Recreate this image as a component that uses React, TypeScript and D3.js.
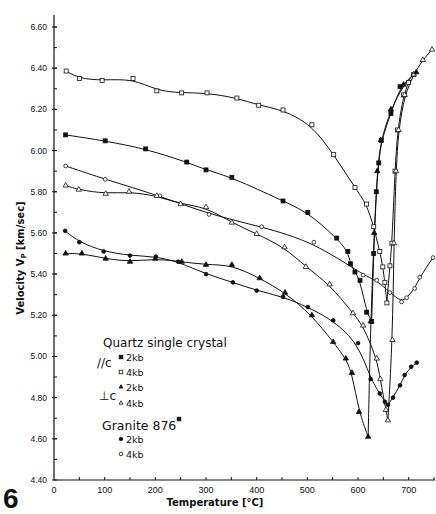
import React, { useEffect, useRef } from 'react';
import * as d3 from 'd3';

// Tick values
const xTicks = [0, 100, 200, 300, 400, 500, 600, 700];
const yTicks = [4.4, 4.6, 4.8, 5.0, 5.2, 5.4, 5.6, 5.8, 6.0, 6.2, 6.4, 6.6];

// Quartz single crystal, parallel c, 2kb (filled squares)
const parC2kbTemp = [23, 101, 181, 262, 300, 351, 452, 501, 558, 580, 585, 594, 604, 617, 627, 631, 636, 641, 646, 665, 683, 710];
const parC2kbVp = [6.076, 6.047, 6.008, 5.944, 5.906, 5.87, 5.755, 5.7, 5.575, 5.51, 5.45, 5.41, 5.37, 5.215, 5.17, 5.5, 5.8, 5.94, 6.05, 6.18, 6.31, 6.37];

// parallel c, 4kb (open squares)
const parC4kbTemp = [24, 50, 95, 156, 203, 252, 302, 361, 404, 452, 509, 552, 594, 617, 631, 643, 649, 653, 657, 663, 667, 673, 678, 690, 700];
const parC4kbVp = [6.386, 6.35, 6.34, 6.35, 6.29, 6.28, 6.28, 6.255, 6.22, 6.197, 6.125, 5.98, 5.82, 5.74, 5.63, 5.51, 5.435, 5.36, 5.26, 5.44, 5.55, 5.9, 6.1, 6.27, 6.33];

// perpendicular c, 2kb (filled triangles)
const perpC2kbTemp = [23, 55, 102, 150, 200, 252, 300, 351, 406, 456, 509, 551, 576, 588, 602, 620, 625, 632, 638, 645, 665, 690, 715];
const perpC2kbVp = [5.5, 5.5, 5.475, 5.46, 5.475, 5.46, 5.445, 5.445, 5.38, 5.31, 5.2, 5.07, 4.99, 4.92, 4.73, 4.61, 5.17, 5.6, 5.9, 6.05, 6.2, 6.32, 6.38];

// perpendicular c, 4kb (open triangles)
const perpC4kbTemp = [23, 49, 102, 148, 203, 250, 300, 351, 400, 455, 497, 544, 590, 610, 637, 644, 655, 659, 668, 671, 675, 680, 692, 710, 728, 746];
const perpC4kbVp = [5.83, 5.81, 5.79, 5.8, 5.78, 5.74, 5.725, 5.65, 5.595, 5.53, 5.435, 5.35, 5.21, 5.15, 4.99, 4.89, 4.74, 4.69, 5.08, 5.55, 5.9, 6.1, 6.27, 6.37, 6.44, 6.49];

// Granite 876, 2kb (filled circles)
const granite2kbTemp = [22, 50, 98, 150, 201, 245, 300, 353, 400, 452, 501, 551, 600, 625, 643, 653, 659, 669, 683, 692, 705, 716];
const granite2kbVp = [5.61, 5.555, 5.51, 5.49, 5.485, 5.46, 5.4, 5.36, 5.32, 5.29, 5.24, 5.175, 5.065, 4.89, 4.82, 4.78, 4.765, 4.8, 4.86, 4.91, 4.95, 4.97];

// Granite 876, 4kb (open circles)
const granite4kbTemp = [23, 101, 209, 306, 410, 513, 610, 637, 663, 686, 696, 712, 722, 748];
const granite4kbVp = [5.925, 5.86, 5.78, 5.69, 5.63, 5.555, 5.395, 5.37, 5.31, 5.265, 5.285, 5.33, 5.385, 5.48];

const series = [
  { temp: parC4kbTemp, vp: parC4kbVp, shape: 'square', filled: false, cusp: 18 },
  { temp: parC2kbTemp, vp: parC2kbVp, shape: 'square', filled: true, cusp: 14 },
  { temp: granite4kbTemp, vp: granite4kbVp, shape: 'circle', filled: false, cusp: -1 },
  { temp: perpC4kbTemp, vp: perpC4kbVp, shape: 'triangle', filled: false, cusp: 17 },
  { temp: granite2kbTemp, vp: granite2kbVp, shape: 'circle', filled: true, cusp: 16 },
  { temp: perpC2kbTemp, vp: perpC2kbVp, shape: 'triangle', filled: true, cusp: 15 },
];

const W = 436;
const H = 514;

function drawMarker(g: any, shape: string, filled: boolean, x: number, y: number, s: number) {
  const fill = filled ? '#111' : '#fff';
  if (shape === 'square') {
    g.append('rect')
      .attr('x', x - s / 2).attr('y', y - s / 2)
      .attr('width', s).attr('height', s)
      .attr('fill', fill).attr('stroke', '#111').attr('stroke-width', 0.8);
  } else if (shape === 'circle') {
    g.append('circle')
      .attr('cx', x).attr('cy', y).attr('r', s / 2)
      .attr('fill', fill).attr('stroke', '#111').attr('stroke-width', 0.8);
  } else {
    g.append('path')
      .attr('d', d3.symbol(d3.symbolTriangle, s * s * 0.5)())
      .attr('transform', `translate(${x},${y})`)
      .attr('fill', fill).attr('stroke', '#111').attr('stroke-width', 0.8);
  }
}

export default function App() {
  const svgRef = useRef<SVGSVGElement>(null);

  useEffect(() => {
    if (!svgRef.current) return;
    const svg = d3.select(svgRef.current);
    svg.selectAll('*').remove();

    const x = d3.scaleLinear().domain([0, 750]).range([54, 434]);
    const y = d3.scaleLinear().domain([4.4, 6.6]).range([480, 27]);
    const font = 'Liberation Sans, Arial, sans-serif';
    const ink = '#111';

    svg.append('rect').attr('width', W).attr('height', H).attr('fill', '#fff');

    // Axis lines
    svg.append('line')
      .attr('x1', x(0)).attr('x2', x(0)).attr('y1', 15).attr('y2', y(4.4))
      .attr('stroke', ink).attr('stroke-width', 1.2);
    svg.append('line')
      .attr('x1', x(0)).attr('x2', 435).attr('y1', y(4.4)).attr('y2', y(4.4))
      .attr('stroke', ink).attr('stroke-width', 1.2);

    // Y ticks (major with labels, minor every 0.1)
    d3.range(4.5, 6.65, 0.1).forEach(v => {
      svg.append('line')
        .attr('x1', x(0)).attr('x2', x(0) + 3)
        .attr('y1', y(v)).attr('y2', y(v))
        .attr('stroke', ink).attr('stroke-width', 1);
    });
    yTicks.forEach(v => {
      svg.append('line')
        .attr('x1', x(0) - 2).attr('x2', x(0) + 3)
        .attr('y1', y(v)).attr('y2', y(v))
        .attr('stroke', ink).attr('stroke-width', 1);
      svg.append('text')
        .attr('x', 47).attr('y', y(v) + 3)
        .attr('text-anchor', 'end')
        .attr('font-family', font).attr('font-size', 8.5).attr('fill', ink)
        .text(d3.format('.2f')(v));
    });

    // X ticks every 50, labels every 100
    d3.range(50, 751, 50).forEach(t => {
      svg.append('line')
        .attr('x1', x(t)).attr('x2', x(t))
        .attr('y1', y(4.4)).attr('y2', y(4.4) - 3)
        .attr('stroke', ink).attr('stroke-width', 1);
    });
    xTicks.forEach(t => {
      svg.append('text')
        .attr('x', x(t)).attr('y', 493)
        .attr('text-anchor', 'middle')
        .attr('font-family', font).attr('font-size', 9).attr('fill', ink)
        .text(t);
    });

    // Axis titles
    svg.append('text')
      .attr('x', 215).attr('y', 506)
      .attr('text-anchor', 'middle')
      .attr('font-family', 'DejaVu Sans, sans-serif').attr('font-size', 10).attr('font-weight', 'bold')
      .attr('fill', ink)
      .text('Temperature [°C]');

    const yt = svg.append('text')
      .attr('transform', 'translate(24,258) rotate(-90)')
      .attr('text-anchor', 'middle')
      .attr('font-family', 'DejaVu Sans, sans-serif').attr('font-size', 10).attr('font-weight', 'bold')
      .attr('fill', ink);
    yt.append('tspan').text('Velocity V');
    yt.append('tspan').attr('font-size', 7).attr('dy', 2).text('P');
    yt.append('tspan').attr('dy', -2).text(' [km/sec]');

    svg.append('text')
      .attr('x', 3).attr('y', 508)
      .attr('font-family', font).attr('font-size', 28).attr('font-weight', 'bold')
      .attr('fill', ink)
      .text('6');

    // Curves: smoothed, split at the sharp minimum
    const line = d3.line<[number, number]>()
      .x(d => x(d[0])).y(d => y(d[1]))
      .curve(d3.curveBasis);

    const curves = svg.append('g');
    const marks = svg.append('g');
    series.forEach(s => {
      const pts: [number, number][] = s.temp.map((t, i) => [t, s.vp[i]]);
      const parts = s.cusp > 0 ? [pts.slice(0, s.cusp + 1), pts.slice(s.cusp)] : [pts];
      parts.forEach(p => {
        curves.append('path')
          .attr('d', line(p))
          .attr('fill', 'none')
          .attr('stroke', ink)
          .attr('stroke-width', 1);
      });
      pts.forEach(p => drawMarker(marks, s.shape, s.filled, x(p[0]), y(p[1]), s.shape === 'triangle' ? 5 : s.shape === 'circle' ? 3.8 : 4));
    });

    // Legend
    const lg = svg.append('g').attr('font-family', 'DejaVu Sans, sans-serif').attr('fill', ink);
    lg.append('text').attr('x', 103).attr('y', 347).attr('font-size', 12).text('Quartz single crystal');
    const items = [
      { shape: 'square', filled: true, label: '2kb', yy: 357 },
      { shape: 'square', filled: false, label: '4kb', yy: 372 },
      { shape: 'triangle', filled: true, label: '2kb', yy: 387 },
      { shape: 'triangle', filled: false, label: '4kb', yy: 403 },
      { shape: 'circle', filled: true, label: '2kb', yy: 439 },
      { shape: 'circle', filled: false, label: '4kb', yy: 454 },
    ];
    items.forEach(it => {
      drawMarker(lg, it.shape, it.filled, 121, it.yy, 3.6);
      lg.append('text').attr('x', 126).attr('y', it.yy + 3.5).attr('font-size', 9.5).text(it.label);
    });
    lg.append('text').attr('x', 97).attr('y', 367).attr('font-size', 12).text('//c');
    lg.append('text').attr('x', 99).attr('y', 400).attr('font-size', 12).text('⊥c');
    lg.append('text').attr('x', 102).attr('y', 430).attr('font-size', 12.5).text('Granite 876');
    drawMarker(lg, 'square', true, 179, 419, 3.6);

    return () => { svg.selectAll('*').remove(); };
  }, []);

  return (
    <div style={{ position: 'absolute', left: 0, top: 0, width: W, height: H }}>
      <svg ref={svgRef} width={W} height={H} />
    </div>
  );
}
